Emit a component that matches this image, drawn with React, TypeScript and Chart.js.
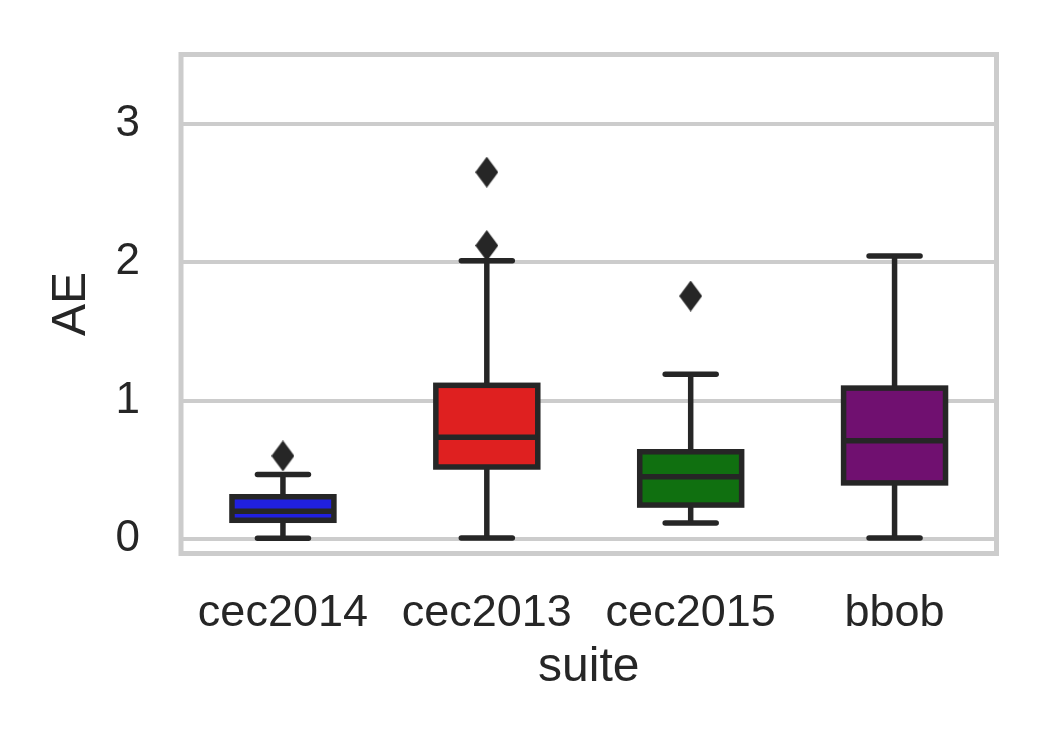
import React, { useEffect, useRef } from "react";
import { Chart, registerables } from "chart.js";

Chart.register(...registerables);

const suites = ["cec2014", "cec2013", "cec2015", "bbob"];
const whiskerLow = [0.005, 0.007, 0.115, 0.007];
const q1 = [0.135, 0.52, 0.245, 0.405];
const median = [0.2, 0.735, 0.45, 0.71];
const q3 = [0.305, 1.11, 0.63, 1.09];
const whiskerHigh = [0.466, 2.01, 1.19, 2.045];
const outlierSuite = ["cec2014", "cec2013", "cec2013", "cec2015"];
const outlierValue = [0.6, 2.12, 2.65, 1.755];
const yTicks = [0, 1, 2, 3];
const boxColors = ["#2020df", "#df2020", "#107010", "#701070"];

const LINE = "#262626";
const GRID = "#cccccc";
const FONT = "'Liberation Sans', Arial, sans-serif";

function makeDiamond(): HTMLCanvasElement {
  const c = document.createElement("canvas");
  c.width = 23;
  c.height = 31;
  const g = c.getContext("2d")!;
  g.fillStyle = LINE;
  g.beginPath();
  g.moveTo(11.5, 0);
  g.lineTo(23, 15.5);
  g.lineTo(11.5, 31);
  g.lineTo(0, 15.5);
  g.closePath();
  g.fill();
  return c;
}

const framePlugin = {
  id: "frame",
  beforeDatasetsDraw(chart: any) {
    const { ctx, chartArea: a } = chart;
    ctx.save();
    ctx.strokeStyle = GRID;
    ctx.lineWidth = 5;
    ctx.strokeRect(a.left, a.top, a.right - a.left, a.bottom - a.top);
    ctx.restore();
  },
};

const boxPlugin = {
  id: "boxes",
  afterDatasetsDraw(chart: any) {
    const ctx = chart.ctx;
    const ys = chart.scales.y;
    const meta = chart.getDatasetMeta(0);
    const line = (x1: number, y1: number, x2: number, y2: number) => {
      ctx.beginPath();
      ctx.moveTo(x1, y1);
      ctx.lineTo(x2, y2);
      ctx.stroke();
    };
    ctx.save();
    ctx.strokeStyle = LINE;
    ctx.lineWidth = 5.5;
    meta.data.forEach((bar: any, i: number) => {
      const { x, width } = bar.getProps(["x", "width"], true);
      const left = x - width / 2;
      const right = x + width / 2;
      const pQ1 = ys.getPixelForValue(q1[i]);
      const pQ3 = ys.getPixelForValue(q3[i]);
      const pMed = ys.getPixelForValue(median[i]);
      const pLo = ys.getPixelForValue(whiskerLow[i]);
      const pHi = ys.getPixelForValue(whiskerHigh[i]);
      ctx.lineCap = "butt";
      ctx.lineJoin = "miter";
      line(x, pQ1, x, pLo);
      line(x, pQ3, x, pHi);
      ctx.strokeRect(left, pQ3, width, pQ1 - pQ3);
      line(left, pMed, right, pMed);
      ctx.lineCap = "round";
      const c = width / 4;
      line(x - c, pLo, x + c, pLo);
      line(x - c, pHi, x + c, pHi);
    });
    ctx.restore();
  },
};

export default function App() {
  const ref = useRef<HTMLCanvasElement>(null);

  useEffect(() => {
    if (!ref.current) return;
    Chart.defaults.font.family = FONT;
    const diamond = makeDiamond();
    const chart = new Chart(ref.current, {
      type: "bar",
      data: {
        labels: suites,
        datasets: [
          {
            type: "bar",
            data: suites.map((_, i) => [q1[i], q3[i]]) as any,
            backgroundColor: boxColors,
            borderWidth: 0,
            barPercentage: 0.5,
            categoryPercentage: 1,
          },
          {
            type: "line",
            data: outlierSuite.map((s, i) => ({ x: s, y: outlierValue[i] })) as any,
            showLine: false,
            pointStyle: diamond as any,
            pointRadius: 12,
            backgroundColor: LINE,
            borderColor: LINE,
          },
        ],
      },
      options: {
        responsive: false,
        animation: false,
        events: [],
        devicePixelRatio: 1,
        layout: { padding: { left: 0, top: 54.5, right: 53.5, bottom: 0 } },
        plugins: {
          legend: { display: false },
          tooltip: { enabled: false },
        },
        scales: {
          x: {
            type: "category",
            offset: true,
            grid: { display: false, drawTicks: false },
            border: { display: false },
            ticks: { color: LINE, font: { size: 45, family: FONT }, padding: 33 },
            title: {
              display: true,
              text: "suite",
              color: LINE,
              font: { size: 48, family: FONT },
              padding: { top: 0, bottom: 53 },
            },
            afterFit: (s: any) => {
              s.height = 196.5;
              s.paddingLeft = 0;
              s.paddingRight = 0;
            },
          },
          y: {
            type: "linear",
            min: -0.105,
            max: 3.5,
            grid: { color: GRID, lineWidth: 4, drawTicks: false },
            border: { display: false },
            afterBuildTicks: (s: any) => {
              s.ticks = yTicks.map((v) => ({ value: v }));
            },
            ticks: {
              color: LINE,
              font: { size: 44, family: FONT },
              padding: 41,
              callback: (v: any) => String(v),
            },
            title: {
              display: true,
              text: "AE",
              color: LINE,
              font: { size: 48, family: FONT },
              padding: { top: 43, bottom: 0 },
            },
            afterFit: (s: any) => {
              s.width = 181;
              s.paddingTop = 0;
              s.paddingBottom = 0;
            },
          },
        },
      },
      plugins: [framePlugin, boxPlugin],
    });
    return () => chart.destroy();
  }, []);

  return (
    <div style={{ position: "absolute", left: 0, top: 0, width: 1050, height: 750, background: "#fff" }}>
      <canvas ref={ref} width={1050} height={750} style={{ display: "block", width: 1050, height: 750 }} />
    </div>
  );
}
